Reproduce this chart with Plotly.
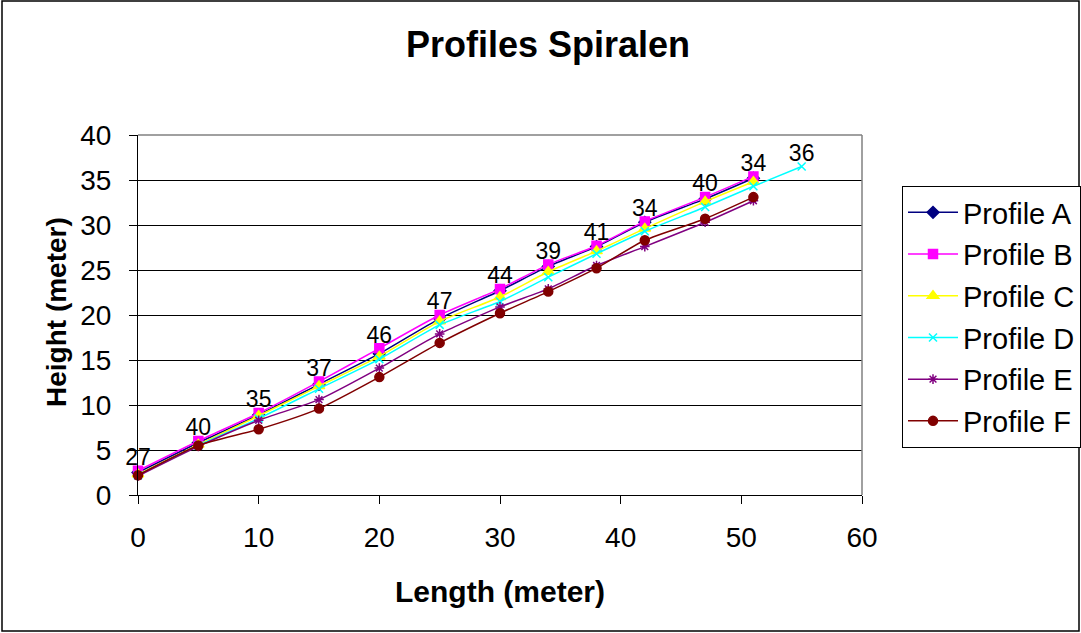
import plotly.graph_objects as go

# Survey stations along each spiral profile (meters)
length = [0, 5, 10, 15, 20, 25, 30, 34, 38, 42, 47, 51]
length_d = [0, 5, 10, 15, 20, 25, 30, 34, 38, 42, 47, 51, 55]

# Heights per profile (meters)
profile_a = [2.5, 5.8, 8.9, 12.3, 15.7, 19.6, 22.7, 25.4, 27.6, 30.3, 32.9, 35.2]
profile_b = [2.7, 6.0, 9.1, 12.6, 16.3, 20.0, 22.9, 25.6, 27.7, 30.4, 33.1, 35.4]
profile_c = [2.3, 5.6, 8.8, 12.1, 15.4, 19.3, 22.0, 24.8, 27.1, 29.6, 32.6, 34.8]
profile_d = [2.2, 5.5, 8.5, 11.8, 15.1, 18.9, 21.5, 24.2, 26.8, 29.3, 32.0, 34.3, 36.5]
profile_e = [2.1, 5.4, 8.3, 10.6, 14.1, 17.9, 20.9, 22.9, 25.5, 27.6, 30.3, 32.7]
profile_f = [2.2, 5.5, 7.3, 9.6, 13.1, 16.9, 20.2, 22.6, 25.2, 28.3, 30.7, 33.1]

# Station labels shown above the upper curve
station_labels = ["27", "40", "35", "37", "46", "47", "44", "39", "41", "34", "40", "34", "36"]

FONT = "Liberation Sans, Arial, sans-serif"

series = [
    ("Profile A", length, profile_a, "#000080", "diamond", 9),
    ("Profile B", length, profile_b, "#FF00FF", "square", 9),
    ("Profile C", length, profile_c, "#FFFF00", "triangle-up", 10),
    ("Profile D", length_d, profile_d, "#00FFFF", "x-thin-open", 8),
    ("Profile E", length, profile_e, "#800080", "asterisk-open", 8),
    ("Profile F", length, profile_f, "#800000", "circle", 9),
]

fig = go.Figure()
for name, xs, ys, color, symbol, size in series:
    fig.add_trace(go.Scatter(
        x=xs, y=ys, name=name, mode="lines+markers",
        legendgroup=name, cliponaxis=False,
        line=dict(color=color, width=1.5, shape="spline", smoothing=0.6),
        marker=dict(symbol=symbol, size=size, color=color,
                    line=dict(color=color, width=1.5)),
    ))

# Labels: upper curve for the shared stations, Profile D for its last station
label_x = length + [length_d[-1]]
label_y = profile_b + [profile_d[-1]]
fig.add_trace(go.Scatter(
    x=label_x, y=label_y, mode="text", text=station_labels,
    textposition="top center", showlegend=False, hoverinfo="skip",
    cliponaxis=False,
    textfont=dict(family=FONT, size=23, color="black"),
))

fig.update_layout(
    width=1081, height=633,
    margin=dict(l=138, r=219, t=135, b=138, autoexpand=False),
    paper_bgcolor="white", plot_bgcolor="white",
    font=dict(family=FONT, color="black"),
    title=dict(text="<b>Profiles Spiralen</b>", x=548 / 1081, xanchor="center",
               y=1 - 44 / 633, yanchor="middle",
               font=dict(family=FONT, size=36, color="black")),
    showlegend=True,
    legend=dict(x=(902 - 138) / 724, xanchor="left",
                y=(495 - 186) / 360, yanchor="top",
                bordercolor="black", borderwidth=1, bgcolor="white",
                font=dict(family=FONT, size=29, color="black"),
                itemwidth=50,
                traceorder="grouped", tracegroupgap=1),
)

fig.update_xaxes(
    range=[0, 60], dtick=10, tick0=0,
    showline=True, linecolor="black", linewidth=1,
    ticks="outside", ticklen=8, tickcolor="black", ticklabelstandoff=9,
    tickfont=dict(family=FONT, size=28, color="black"),
    showgrid=False, zeroline=False,
)
fig.update_yaxes(
    range=[0, 40], dtick=5, tick0=0,
    showline=True, linecolor="black", linewidth=1,
    ticks="outside", ticklen=8, tickcolor="black", ticklabelstandoff=12,
    tickfont=dict(family=FONT, size=28, color="black"),
    showgrid=True, gridcolor="black", gridwidth=1, zeroline=False,
)

# Axis titles
fig.add_annotation(text="<b>Length (meter)</b>", xref="paper", yref="paper",
                   x=0.5, y=-(591 - 495) / 360, xanchor="center", yanchor="middle",
                   showarrow=False, font=dict(family=FONT, size=30, color="black"))
fig.add_annotation(text="<b>Height (meter)</b>", xref="paper", yref="paper",
                   x=-(138 - 56) / 724, y=(495 - 312) / 360, xanchor="center",
                   yanchor="middle", textangle=-90,
                   showarrow=False, font=dict(family=FONT, size=28, color="black"))

# Gray plot-area border on top and right
fig.add_shape(type="line", xref="paper", yref="paper", x0=0, x1=1, y0=1, y1=1,
              line=dict(color="#808080", width=1.5))
fig.add_shape(type="line", xref="paper", yref="paper", x0=1, x1=1, y0=0, y1=1,
              line=dict(color="#808080", width=1.5))
# Chart frame
fig.add_shape(type="rect", xref="paper", yref="paper",
              x0=-136 / 724, x1=(1079 - 138) / 724,
              y0=-136 / 360, y1=(495 - 1) / 360,
              line=dict(color="black", width=1.5), fillcolor="rgba(0,0,0,0)")

fig.write_html("out.html")
